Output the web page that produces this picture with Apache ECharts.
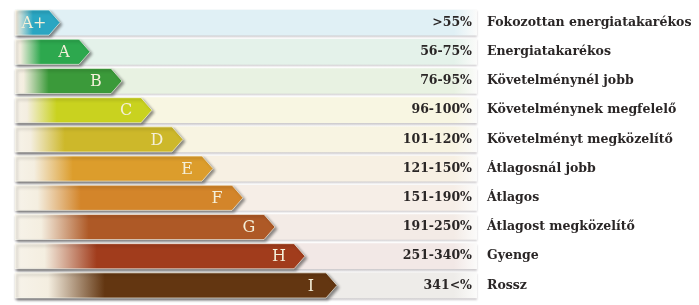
<!DOCTYPE html>
<html>
<head>
<meta charset="utf-8">
<script src="https://cdn.jsdelivr.net/npm/echarts@6/dist/echarts.min.js"></script>
<style>
  html, body { margin: 0; padding: 0; background: #fff; }
  #chart { width: 699px; height: 305px; }
</style>
</head>
<body>
<div id="chart"></div>
<script>
// energy classes, top to bottom
var classes = ['A+', 'A', 'B', 'C', 'D', 'E', 'F', 'G', 'H', 'I'];
// arrow length (axis units)
var arrowLength = [45, 75, 107, 137, 168, 198, 228, 260, 290, 322];
var ranges = ['>55%', '56-75%', '76-95%', '96-100%', '101-120%', '121-150%', '151-190%', '191-250%', '251-340%', '341<%'];
var names = ['Fokozottan energiatakarékos', 'Energiatakarékos', 'Követelménynél jobb', 'Követelménynek megfelelő',
  'Követelményt megközelítő', 'Átlagosnál jobb', 'Átlagos', 'Átlagost megközelítő', 'Gyenge', 'Rossz'];

var arrowColors = ['#2aa6c2', '#2da84e', '#3b9a3a', '#c9d21f', '#cdb82a', '#dc9d2c', '#d3852a', '#ae5926', '#a13c1c', '#633611'];
var bandColors = ['#e0f0f5', '#e4f2ea', '#e8f2e2', '#f8f6e2', '#f8f4e2', '#f7f0e3', '#f6eee7', '#f3ebe6', '#f2e8e6', '#eeece9'];

var BAND_END = 462;
var RANGE_X = 457;
var NAME_X = 472;
var textFont = 'bold 12.5px "DejaVu Serif", serif';

var chart = echarts.init(document.getElementById('chart'), null, { renderer: 'canvas' });

function bandItem(params, api) {
  var i = api.value(0);
  var p0 = api.coord([0, i]);
  var p1 = api.coord([BAND_END, i]);
  var bh = api.size([0, 1])[1];
  var h = bh * 0.88;
  return {
    type: 'rect',
    shape: { x: p0[0], y: p0[1] - h / 2, width: p1[0] - p0[0], height: h },
    style: {
      fill: new echarts.graphic.LinearGradient(0, 0, 1, 0, [
        { offset: 0, color: bandColors[i] },
        { offset: 0.95, color: bandColors[i] },
        { offset: 1, color: '#fbfbfa' }
      ]),
      shadowColor: 'rgba(90,80,90,0.3)',
      shadowBlur: 2,
      shadowOffsetY: 1.5
    },
    silent: true
  };
}

function arrowItem(params, api) {
  var len = api.value(0);
  var i = api.value(1);
  var p0 = api.coord([0, i]);
  var p1 = api.coord([len, i]);
  var bh = api.size([0, 1])[1];
  var h = bh * 0.86;
  var tip = 11;
  var x0 = p0[0], x1 = p1[0], y = p0[1];
  var w = x1 - x0;
  var fadeA = Math.min(0.6, (2 + 3.5 * i) / w);
  var fadeB = Math.min(0.8, (18 + 8 * i) / w);
  return {
    type: 'group',
    children: [
      {
        type: 'polygon',
        shape: { points: [[x0, y - h / 2], [x1 - tip, y - h / 2], [x1, y], [x1 - tip, y + h / 2], [x0, y + h / 2]] },
        style: {
          fill: new echarts.graphic.LinearGradient(0, 0, 1, 0, [
            { offset: 0, color: '#f7f3ea' },
            { offset: fadeA, color: '#f4eee0' },
            { offset: fadeB, color: arrowColors[i] },
            { offset: 1, color: arrowColors[i] }
          ]),
          stroke: 'rgba(255,255,245,0.6)',
          lineWidth: 1,
          shadowColor: 'rgba(0,0,0,0.45)',
          shadowBlur: 3,
          shadowOffsetX: 2,
          shadowOffsetY: 2
        }
      },
      {
        type: 'text',
        x: x1 - 26,
        y: y + 1,
        style: {
          text: classes[i],
          fill: '#f4efd8',
          font: '16px "DejaVu Serif", serif',
          align: 'center',
          verticalAlign: 'middle'
        }
      }
    ]
  };
}

function labelItem(params, api) {
  var i = api.value(0);
  var pr = api.coord([RANGE_X, i]);
  var pn = api.coord([NAME_X, i]);
  return {
    type: 'group',
    children: [
      {
        type: 'text', x: pr[0], y: pr[1],
        style: { text: ranges[i], fill: '#2a2626', font: textFont, align: 'right', verticalAlign: 'middle' }
      },
      {
        type: 'text', x: pn[0], y: pn[1],
        style: { text: names[i], fill: '#2a2626', font: textFont, align: 'left', verticalAlign: 'middle' }
      }
    ]
  };
}

chart.setOption({
  animation: false,
  grid: { left: 15, right: 0, top: 8, bottom: 5 },
  xAxis: { type: 'value', min: 0, max: 684, show: false },
  yAxis: { type: 'category', data: classes, inverse: true, show: false },
  series: [
    { type: 'custom', name: 'band', renderItem: bandItem, data: classes.map(function (c, i) { return [i]; }), z: 1 },
    { type: 'custom', name: 'arrow', renderItem: arrowItem, data: arrowLength.map(function (v, i) { return [v, i]; }), encode: { x: 0, y: 1 }, z: 2 },
    { type: 'custom', name: 'label', renderItem: labelItem, data: classes.map(function (c, i) { return [i]; }), z: 3 }
  ]
});
window.addEventListener('resize', function () { chart.resize(); });
</script>
</body>
</html>
